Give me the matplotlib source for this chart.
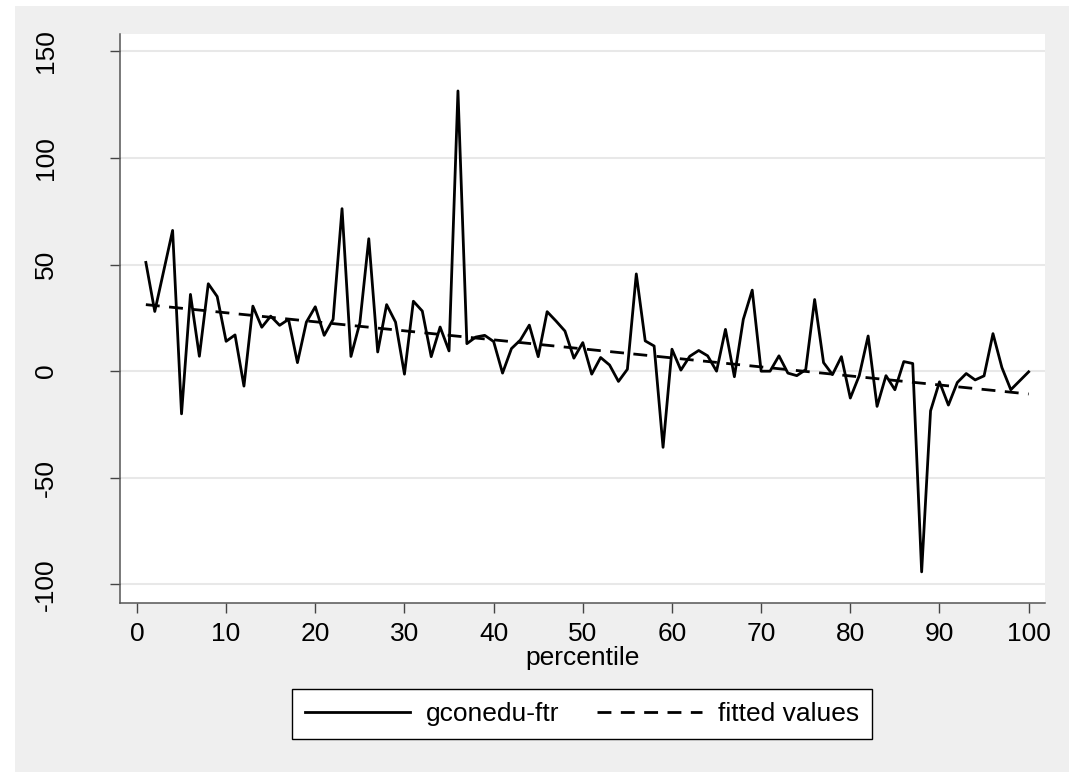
import matplotlib
matplotlib.use("Agg")
import matplotlib.pyplot as plt
from matplotlib.patches import Rectangle

# values
percentile = list(range(1, 101))
gconedu_ftr = [51, 28, 47, 66, -20, 36, 7, 41, 35, 14,
               17, -7, 30.5, 20.6, 25.8, 21.5, 24.3, 4, 23, 30.2,
               16.8, 24.3, 76.2, 6.9, 22.7, 62.1, 9, 31.2, 23, -1.4,
               32.8, 28.2, 6.8, 20.7, 9.5, 131.4, 12.9, 16, 16.8, 13.9,
               -0.9, 10.6, 14.6, 21.6, 6.8, 27.9, 23.5, 18.8, 6.1, 13.4,
               -1.4, 6.4, 2.9, -4.8, 0.9, 45.6, 14.2, 11.8, -35.7, 10.3,
               0.5, 7, 9.7, 7.2, 0, 19.6, -2.6, 24.3, 38, 0,
               0, 7.2, -0.9, -2.1, 0.7, 33.6, 4, -1.6, 6.8, -12.6,
               -2.1, 16.5, -16.5, -2.1, -8.7, 4.5, 3.6, -94.1, -18.6, -5,
               -15.9, -5.3, -1.1, -4.1, -2.2, 17.6, 1.7, -8.7, -4.5, -0.3]
fit_x = [1, 100]
fit_y = [31.2, -10.7]

xticks = [0, 10, 20, 30, 40, 50, 60, 70, 80, 90, 100]
yticks = [-100, -50, 0, 50, 100, 150]

plt.rcParams['font.family'] = ['Liberation Sans', 'DejaVu Sans']
plt.rcParams['axes.unicode_minus'] = False

W, H = 1069, 772
fig = plt.figure(figsize=(W / 100, H / 100), dpi=100, facecolor="white")
# stata style grey graph region
fig.patches.append(Rectangle((15 / W, 0), 1, 1 - 6 / H, transform=fig.transFigure,
                             facecolor="#efefef", edgecolor="none", zorder=-10))

ax = fig.add_axes([120 / W, 1 - 603 / H, (1044.7 - 120) / W, (603 - 34) / H])
ax.set_facecolor("white")

ax.plot(percentile, gconedu_ftr, color="black", lw=2.0, label="gconedu-ftr")
ax.plot(fit_x, fit_y, color="black", lw=2.0, ls=(0, (5.0, 3.4)), label="fitted values")

ax.set_xlim(-1.9, 101.8)
ax.set_ylim(-108.7, 158.1)
ax.set_xticks(xticks)
ax.set_yticks(yticks)
ax.set_yticklabels([str(t) for t in yticks], rotation=90, va="center")
ax.grid(axis="y", color="#e8e8e8", lw=1.5)
ax.set_axisbelow(True)

for s in ["top", "right"]:
    ax.spines[s].set_visible(False)
for s in ["left", "bottom"]:
    ax.spines[s].set_color("#555555")
    ax.spines[s].set_linewidth(1.1)

ax.tick_params(axis="both", labelsize=19, length=7.5, width=1.0, color="#444444")
ax.tick_params(axis="y", pad=37)
ax.tick_params(axis="x", pad=6)
ax.set_xlabel("percentile", fontsize=19, labelpad=0)

handles, labels = ax.get_legend_handles_labels()
leg = fig.legend(handles, labels, loc="center", bbox_to_anchor=(582 / W, 1 - 714 / H),
                 ncol=2, fontsize=19, frameon=True, fancybox=False, edgecolor="black",
                 facecolor="white", framealpha=1, handlelength=4.0, columnspacing=1.4,
                 handletextpad=0.6, borderpad=0.5)
leg.get_frame().set_linewidth(1.0)

fig.savefig("out.png", dpi=100, facecolor=fig.get_facecolor())
